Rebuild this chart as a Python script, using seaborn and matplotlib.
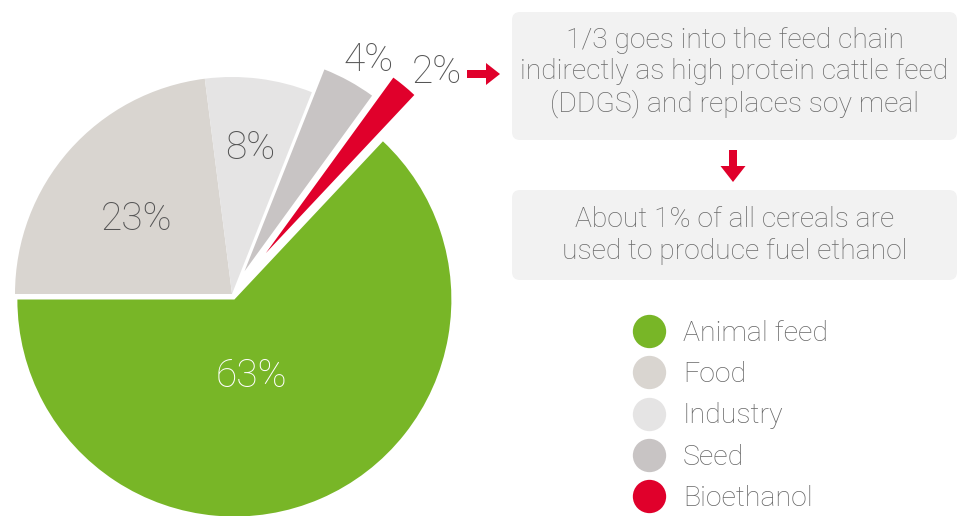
import matplotlib
matplotlib.use("Agg")
import matplotlib.pyplot as plt
from matplotlib.patches import FancyBboxPatch, FancyArrow
from matplotlib.lines import Line2D
import seaborn as sns

# Use of cereals (share of total, %)
categories = ["Animal feed", "Food", "Industry", "Seed", "Bioethanol"]
shares = [63, 23, 8, 4, 2]
colors = ["#78B627", "#D9D5D0", "#E5E4E4", "#C8C4C4", "#E0002B"]
label_colors = ["#FFFFFF", "#555555", "#555555", "#555555", "#555555"]

note_top = "1/3 goes into the feed chain\nindirectly as high protein cattle feed\n(DDGS) and replaces soy meal"
note_bottom = "About 1% of all cereals are\nused to produce fuel ethanol"

sns.set_theme(style="white")
plt.rcParams["font.family"] = ["Roboto", "DejaVu Sans"]
plt.rcParams["font.weight"] = "light"

W, H = 959, 516
fig = plt.figure(figsize=(W / 100, H / 100), dpi=100)
ax = fig.add_axes([0, 0, 1, 1])

cx, cy, R = 232, H - 294, 217
explode = [6, 0, 0, 26, 53]
ax.pie(shares, colors=colors, explode=explode, center=(cx, cy), radius=R,
       startangle=180 + 3.6 * shares[0], counterclock=False,
       wedgeprops=dict(linewidth=0), frame=True)
ax.set_xlim(0, W)
ax.set_ylim(0, H)
ax.set_aspect("equal")
ax.axis("off")

# value labels
label_pos = [(251, 376), (137, 219), (250, 148), (369, 60), (437, 72)]
for v, (x, y), c in zip(shares, label_pos, label_colors):
    ax.text(x, H - y, f"{v}%", ha="center", va="center", fontsize=28,
            color=c, fontweight="light")

# arrows from the bioethanol slice to the notes
red = colors[4]
ax.add_patch(FancyArrow(467, H - 74, 33, 0, width=8, head_width=22, head_length=14,
                        length_includes_head=True, color=red, linewidth=0))
ax.add_patch(FancyArrow(733, H - 150, 0, -32, width=8, head_width=25, head_length=16,
                        length_includes_head=True, color=red, linewidth=0))

# notes
for (x0, y0, x1, y1), txt, mid_y in [((512, 12, 957, 140), note_top, 72.5),
                                     ((512, 190, 957, 280), note_bottom, 235.5)]:
    ax.add_patch(FancyBboxPatch((x0, H - y1), x1 - x0, y1 - y0,
                                boxstyle="round,pad=0,rounding_size=8",
                                facecolor="#F2F2F2", edgecolor="none"))
    ax.text((x0 + x1) / 2, H - mid_y, txt, ha="center", va="center",
            fontsize=20.3, color="#6A6A6A", linespacing=1.2, fontweight="light")

# legend
handles = [Line2D([], [], marker="o", linestyle="none", markersize=24,
                  markerfacecolor=c, markeredgewidth=0) for c in colors]
leg = ax.legend(handles, categories, loc="upper left",
                bbox_to_anchor=(629 / W, 1 - 320 / H),
                frameon=False, fontsize=20.5, labelcolor="#666666", labelspacing=0.5,
                handletextpad=0.5, borderpad=0, borderaxespad=0, handlelength=1.4)
for t in leg.get_texts():
    t.set_fontweight("light")

fig.savefig("out.png", dpi=100)
